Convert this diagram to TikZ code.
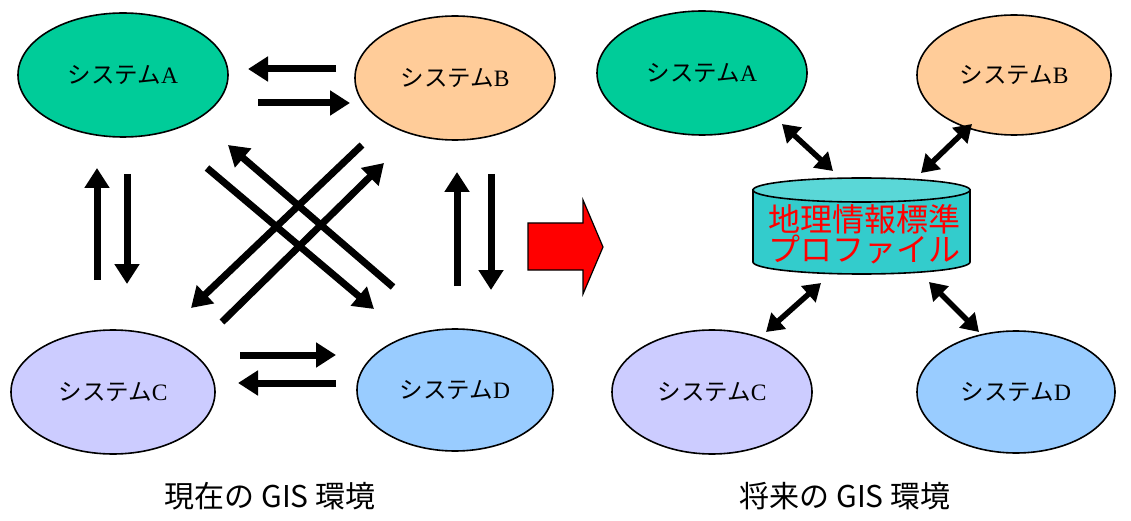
\documentclass[tikz,border=0pt]{standalone}
\usepackage{fontspec}
\setmainfont{Liberation Serif}
\newfontfamily\cjk{Noto Sans CJK JP}
\usetikzlibrary{arrows.meta,shapes.geometric}
\definecolor{colA}{HTML}{00CC99}
\definecolor{colB}{HTML}{FFCC99}
\definecolor{colC}{HTML}{CCCCFF}
\definecolor{colD}{HTML}{99CCFF}
\definecolor{cylbody}{HTML}{33CCCC}
\definecolor{cyltop}{HTML}{5AD7D7}
\begin{document}
\begin{tikzpicture}[x=1pt,y=-1pt,
  sys/.style={ellipse,draw,line width=1.6pt,inner sep=0pt,font=\fontsize{23.5}{26}\selectfont},
  blk/.style={line width=7pt,-{Triangle[length=20pt,width=24pt]}},
  dbl/.style={line width=5.5pt,{Triangle[length=17pt,width=21pt]}-{Triangle[length=17pt,width=21pt]}},
  captxt/.style={font=\cjk\fontsize{30}{33}\selectfont}]
\useasboundingbox (0,0) rectangle (1131,521);
% left: current
\node[sys,fill=colA,minimum width=210pt,minimum height=124pt] (lA) at (123,75) {{\cjk システム}A};
\node[sys,fill=colB,minimum width=200pt,minimum height=124pt] (lB) at (455,78) {{\cjk システム}B};
\node[sys,fill=colC,minimum width=204pt,minimum height=124pt] (lC) at (113,392) {{\cjk システム}C};
\node[sys,fill=colD,minimum width=196pt,minimum height=122pt] (lD) at (455,390) {{\cjk システム}D};
% horizontal arrows
\coordinate (h1s) at (336,69); \coordinate (h1e) at (248,69);
\coordinate (h2s) at (258,103); \coordinate (h2e) at (350,103);
\coordinate (h3s) at (240,355); \coordinate (h3e) at (336,355);
\coordinate (h4s) at (336,383); \coordinate (h4e) at (238,383);
\draw[blk] (h1s) -- (h1e);
\draw[blk] (h2s) -- (h2e);
\draw[blk] (h3s) -- (h3e);
\draw[blk] (h4s) -- (h4e);
% vertical arrows
\coordinate (v1s) at (97,280); \coordinate (v1e) at (97,168);
\coordinate (v2s) at (127,174); \coordinate (v2e) at (127,284);
\coordinate (v3s) at (457,286); \coordinate (v3e) at (457,172);
\coordinate (v4s) at (491,174); \coordinate (v4e) at (491,290);
\draw[blk] (v1s) -- (v1e);
\draw[blk] (v2s) -- (v2e);
\draw[blk] (v3s) -- (v3e);
\draw[blk] (v4s) -- (v4e);
% diagonal arrows
\coordinate (d1s) at (393,287); \coordinate (d1e) at (228,145);
\coordinate (d2s) at (207,168); \coordinate (d2e) at (374,309);
\coordinate (d3s) at (362,145); \coordinate (d3e) at (191,308);
\coordinate (d4s) at (222,322); \coordinate (d4e) at (384,163);
\draw[blk] (d1s) -- (d1e);
\draw[blk] (d2s) -- (d2e);
\draw[blk] (d3s) -- (d3e);
\draw[blk] (d4s) -- (d4e);
\node[captxt] (capL) at (270,496) {現在の GIS 環境};
% big red arrow
\draw[line width=1.2pt,fill=red,line join=miter] (528,223) -- (583,223) -- (583,200) -- (603,247) -- (583,294) -- (583,270) -- (528,270) -- cycle;
% right: future
\node[sys,fill=colA,minimum width=210pt,minimum height=124pt] (rA) at (702,73) {{\cjk システム}A};
\node[sys,fill=colB,minimum width=194pt,minimum height=120pt] (rB) at (1014,75) {{\cjk システム}B};
\node[sys,fill=colC,minimum width=200pt,minimum height=124pt] (rC) at (712,392) {{\cjk システム}C};
\node[sys,fill=colD,minimum width=198pt,minimum height=122pt] (rD) at (1016,392) {{\cjk システム}D};
% cylinder
\draw[line width=1.6pt,fill=cylbody] (753,190) -- (753,262) arc[start angle=180,end angle=0,x radius=108.5,y radius=12] -- (970,190) -- cycle;
\draw[line width=1.6pt,fill=cyltop] (861.5,190) ellipse[x radius=108.5,y radius=12];
\node[inner sep=0pt,text=red,font=\cjk\fontsize{32}{34}\selectfont,align=center] (db) at (864,234) {地理情報標準\\[-4pt]プロファイル};
% double arrows
\coordinate (e1s) at (782,124); \coordinate (e1e) at (833,171);
\coordinate (e2s) at (972,124); \coordinate (e2e) at (921,173);
\coordinate (e3s) at (821,283); \coordinate (e3e) at (766,332);
\coordinate (e4s) at (929,282); \coordinate (e4e) at (979,332);
\draw[dbl] (e1s) -- (e1e);
\draw[dbl] (e2s) -- (e2e);
\draw[dbl] (e3s) -- (e3e);
\draw[dbl] (e4s) -- (e4e);
\node[captxt] (capR) at (845,496) {将来の GIS 環境};
\end{tikzpicture}
\end{document}
